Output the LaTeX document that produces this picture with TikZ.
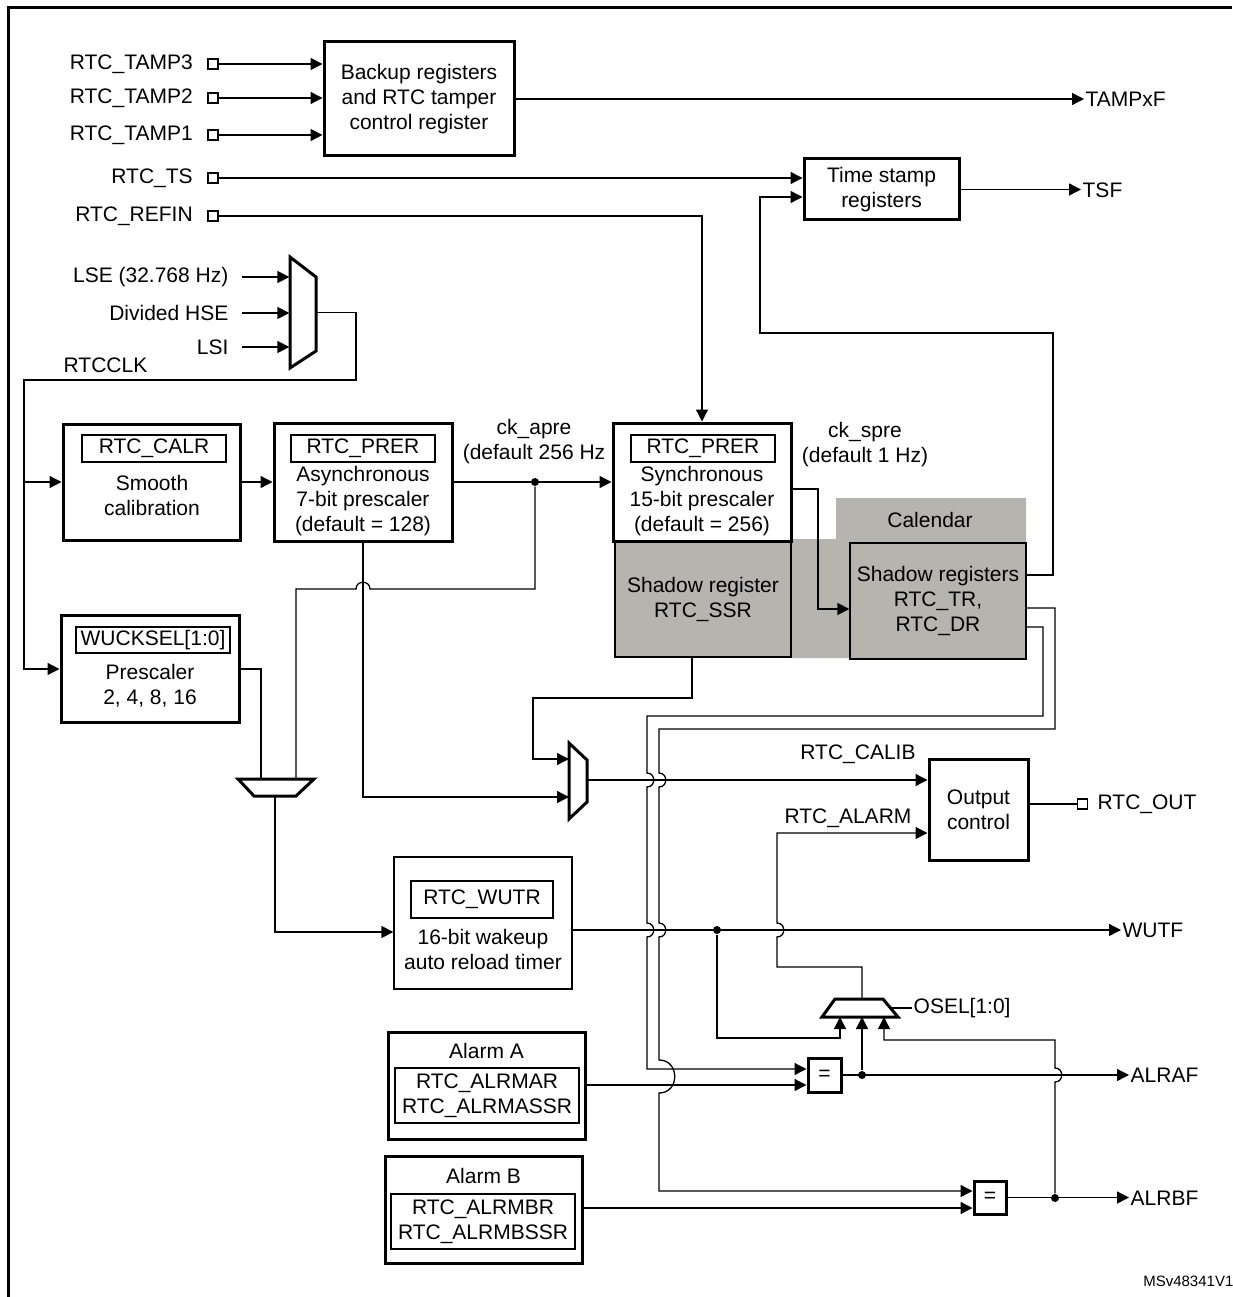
\documentclass[tikz,border=0pt]{standalone}
\usepackage{fontspec}
\setmainfont{Liberation Sans}
\usetikzlibrary{arrows.meta,positioning}
\definecolor{calgray}{RGB}{181,180,174}

\begin{document}
\begin{tikzpicture}[x=1pt,y=-1pt,line width=1.3pt,
  font=\fontsize{21}{25}\selectfont,
  box/.style={draw,line width=3pt,inner sep=0pt,align=center},
  thinbox/.style={draw,line width=1.3pt,inner sep=0pt,align=center},
  reg/.style={draw,line width=1.2pt,inner sep=0pt,align=center},
  pin/.style={draw,line width=1.2pt,minimum size=10pt,inner sep=0pt},
  txt/.style={inner sep=1pt,align=center},
  dot/.style={circle,fill,inner sep=0pt,minimum size=8pt},
  mux/.style={line width=3pt},
  sig/.style={-{Triangle[length=12pt,width=12pt]}}]
\useasboundingbox (0,0) rectangle (1232,1297);
\draw[line width=3pt] (8,1297) -- (8,8) -- (1232,8);

\node[pin] (tamp3) at (213,64) {};
\node[pin] (tamp2) at (213,98) {};
\node[pin] (tamp1) at (213,135) {};
\node[pin] (ts) at (213,178) {};
\node[pin] (refin) at (213,216) {};
\node[txt,left=13pt of tamp3] {RTC\_TAMP3};
\node[txt,left=13pt of tamp2] {RTC\_TAMP2};
\node[txt,left=13pt of tamp1] {RTC\_TAMP1};
\node[txt,left=13pt of ts] {RTC\_TS};
\node[txt,left=13pt of refin] {RTC\_REFIN};

\node[box,minimum width=190pt,minimum height=114pt] (bkp) at (419,99) {Backup registers\\and RTC tamper\\control register};
\node[box,minimum width=155pt,minimum height=61pt] (tsr) at (881.5,189.5) {Time stamp\\registers};
\node[txt,anchor=west] (tampf) at (1084,99) {TAMPxF};
\node[txt,anchor=west] (tsf) at (1081,190) {TSF};

\node[minimum width=26pt,minimum height=111pt,inner sep=0pt] (ckmux) at (303,312.5) {};
\draw[mux] (290,257) -- (316,277) -- (316,351) -- (290,368) -- cycle;
\node[txt,anchor=east] (lse) at (230,277) {LSE (32.768 Hz)};
\node[txt,anchor=east] (hse) at (230,313) {Divided HSE};
\node[txt,anchor=east] (lsi) at (230,347) {LSI};
\node[txt,anchor=west] at (62,365) {RTCCLK};
\coordinate (rtcclk) at (24,380);

\node[box,minimum width=177pt,minimum height=116pt] (calr) at (151.5,482) {};
\node[reg,minimum width=144pt,minimum height=27pt] at (154,448.5) {RTC\_CALR};
\node[txt] at (152,495.5) {Smooth\\calibration};

\node[box,minimum width=178pt,minimum height=118pt] (apre) at (363,482) {};
\node[reg,minimum width=144pt,minimum height=27pt] at (363,448.5) {RTC\_PRER};
\node[txt] at (363,501.5) {Asynchronous\\7-bit prescaler\\(default = 128)};

\fill[calgray] (791,539) -- (836,539) -- (836,498) -- (1026,498) -- (1026,658) -- (791,658) -- cycle;
\node[txt] at (930,520) {Calendar};
\node[thinbox,fill=calgray,minimum width=176pt,minimum height=115pt] (ssr) at (703,599.5) {Shadow register\\RTC\_SSR};
\node[thinbox,fill=calgray,minimum width=176pt,minimum height=116pt] (shr) at (938,601) {Shadow registers\\RTC\_TR,\\RTC\_DR};

\node[box,fill=white,minimum width=178pt,minimum height=118pt] (spre) at (702,482) {};
\node[reg,minimum width=144pt,minimum height=27pt] at (703,448.5) {RTC\_PRER};
\node[txt] at (702,501.5) {Synchronous\\15-bit prescaler\\(default = 256)};

\node[txt] at (534,442) {ck\_apre\\(default 256 Hz};
\node[txt] at (865,445) {ck\_spre\\(default 1 Hz)};
\node[dot] (apdot) at (535,482) {};

\node[box,minimum width=178pt,minimum height=107pt] (wuck) at (150,669) {};
\node[reg,minimum width=154pt,minimum height=26pt] at (153,640) {WUCKSEL[1:0]};
\node[txt] at (150,685.5) {Prescaler\\2, 4, 8, 16};

\draw[mux] (238,779) -- (314,779) -- (296,796) -- (254,796) -- cycle;
\coordinate (wmux-a) at (261,779);
\coordinate (wmux-b) at (296,779);
\coordinate (wmux-out) at (275,796);

\node[thinbox,minimum width=178pt,minimum height=132pt] (wutr) at (483,923) {};
\node[reg,minimum width=142pt,minimum height=37pt] at (482,899.5) {RTC\_WUTR};
\node[txt] at (483,949) {16-bit wakeup\\auto reload timer};

\draw[mux] (569,743) -- (587,760) -- (587,802) -- (569,819) -- cycle;
\coordinate (cmux-a) at (569,759);
\coordinate (cmux-b) at (569,797);
\coordinate (cmux-out) at (587,780);

\node[box,minimum width=99pt,minimum height=101pt] (outc) at (978.5,809.5) {Output\\control};
\node[pin] (rtcout) at (1082.5,804) {};
\node[txt,anchor=west] at (1096,804) {RTC\_OUT};
\node[txt] at (858,754) {RTC\_CALIB};
\node[txt] at (848,818) {RTC\_ALARM};

\node[txt,anchor=west] (wutf) at (1121,930) {WUTF};
\node[dot] (wdot) at (717,930) {};

\draw[mux] (835,999) -- (883,999) -- (898,1017) -- (822,1017) -- cycle;
\coordinate (omux-out) at (862,999);

\node[box,minimum width=197pt,minimum height=107pt] (alma) at (486.5,1085.5) {};
\node[txt] at (486.5,1051) {Alarm A};
\node[reg,minimum width=184pt,minimum height=55pt] at (487,1095.5) {RTC\_ALRMAR\\RTC\_ALRMASSR};
\node[box,minimum width=33pt,minimum height=34pt] (eqa) at (824.5,1075) {=};
\node[dot] (adot) at (862,1075) {};
\node[txt,anchor=west] (alraf) at (1129,1075) {ALRAF};

\node[box,minimum width=197pt,minimum height=107pt] (almb) at (483.5,1209.5) {};
\node[txt] at (483.5,1176) {Alarm B};
\node[reg,minimum width=184pt,minimum height=55pt] at (483,1221.5) {RTC\_ALRMBR\\RTC\_ALRMBSSR};
\node[box,minimum width=32pt,minimum height=33pt] (eqb) at (990,1197.5) {=};
\node[dot] (bdot) at (1055,1198) {};
\node[txt,anchor=west] (alrbf) at (1129,1198) {ALRBF};

\node[font=\fontsize{15}{18}\selectfont,anchor=east,inner sep=0pt] at (1234,1281) {MSv48341V1};

\draw[sig] (tamp3.east) -- (tamp3 -| bkp.west);
\draw[sig] (tamp2.east) -- (tamp2 -| bkp.west);
\draw[sig] (tamp1.east) -- (tamp1 -| bkp.west);
\draw[sig] (bkp.east) -- (tampf.west);
\draw[sig] (ts.east) -- (ts -| tsr.west);
\draw[sig] (tsr.east) -- (tsr.east -| tsf.west);
\draw[sig] (refin.east) -| (spre.north);

\draw[sig] ([xshift=12pt]lse.east) -- (lse -| ckmux.west);
\draw[sig] ([xshift=12pt]hse.east) -- (hse -| ckmux.west);
\draw[sig] ([xshift=12pt]lsi.east) -- (lsi -| ckmux.west);
\draw[sig] (ckmux.east) -- (356,312.5) |- (rtcclk) |- (wuck.west);
\draw[sig] (calr.west -| rtcclk) -- (calr.west);

\draw[sig] (calr.east) -- (apre.west);
\draw[sig] (apre.east) -- (spre.west);
\draw (apdot) -- (535,589) -- (370,589) .. controls (370,580) and (356,580) .. (356,589) -| (wmux-b);
\draw (wuck.east) -| (wmux-a);
\draw[sig] (wmux-out) |- (wutr.west |- 0,932);

\draw[sig] (spre.east |- 0,489) -- (818,489) |- (shr.west |- 0,609);
\draw[sig] (shr.east |- 0,575) -| (1053,333) -| (760,197) -- (tsr.west |- 0,197);

\draw[sig] ([xshift=-11pt]ssr.south) |- (533,698) |- (cmux-a);
\draw[sig] (apre.south) |- (cmux-b);
\draw[sig] (cmux-out) -- (outc.west |- cmux-out);
\draw (outc.east |- rtcout) -- (rtcout.west);

\draw[sig] (shr.east |- 0,627) -- (1043,627) |- (647,716) -- (647,773) .. controls +(9,0) and +(9,0) .. (647,787) -- (647,923) .. controls +(9,0) and +(9,0) .. (647,937) |- (eqa.west |- 0,1069);
\draw[sig] (shr.east |- 0,608) -- (1055,608) |- (659,729) -- (659,773) .. controls +(9,0) and +(9,0) .. (659,787) -- (659,923) .. controls +(9,0) and +(9,0) .. (659,937) -- (659,1060) .. controls +(21,0) and +(21,0) .. (659,1093) |- (eqb.west |- 0,1191);

\draw[sig] (wutr.east |- wutf) -- (wutf.west);
\draw[sig] (omux-out) -- (862,967) -| (777,937) .. controls +(9,0) and +(9,0) .. (777,923) |- (outc.west |- 0,833);
\draw (890.5,1008) -- (912,1008) node[txt,anchor=west] (osel) {OSEL[1:0]};
\draw[sig] (wdot) |- (840,1038) -- (840,1017);
\draw[sig] (adot) -- (862,1017);
\draw[sig] (bdot) -- (1055,1082) .. controls +(9,0) and +(9,0) .. (1055,1068) |- (884,1040) -- (884,1017);

\draw[sig] (alma.east |- 0,1085) -- (eqa.west |- 0,1085);
\draw[sig] (eqa.east) -- (alraf.west);
\draw[sig] (almb.east |- 0,1208) -- (eqb.west |- 0,1208);
\draw[sig] (eqb.east) -- (eqb.east -| alrbf.west);
\end{tikzpicture}
\end{document}
